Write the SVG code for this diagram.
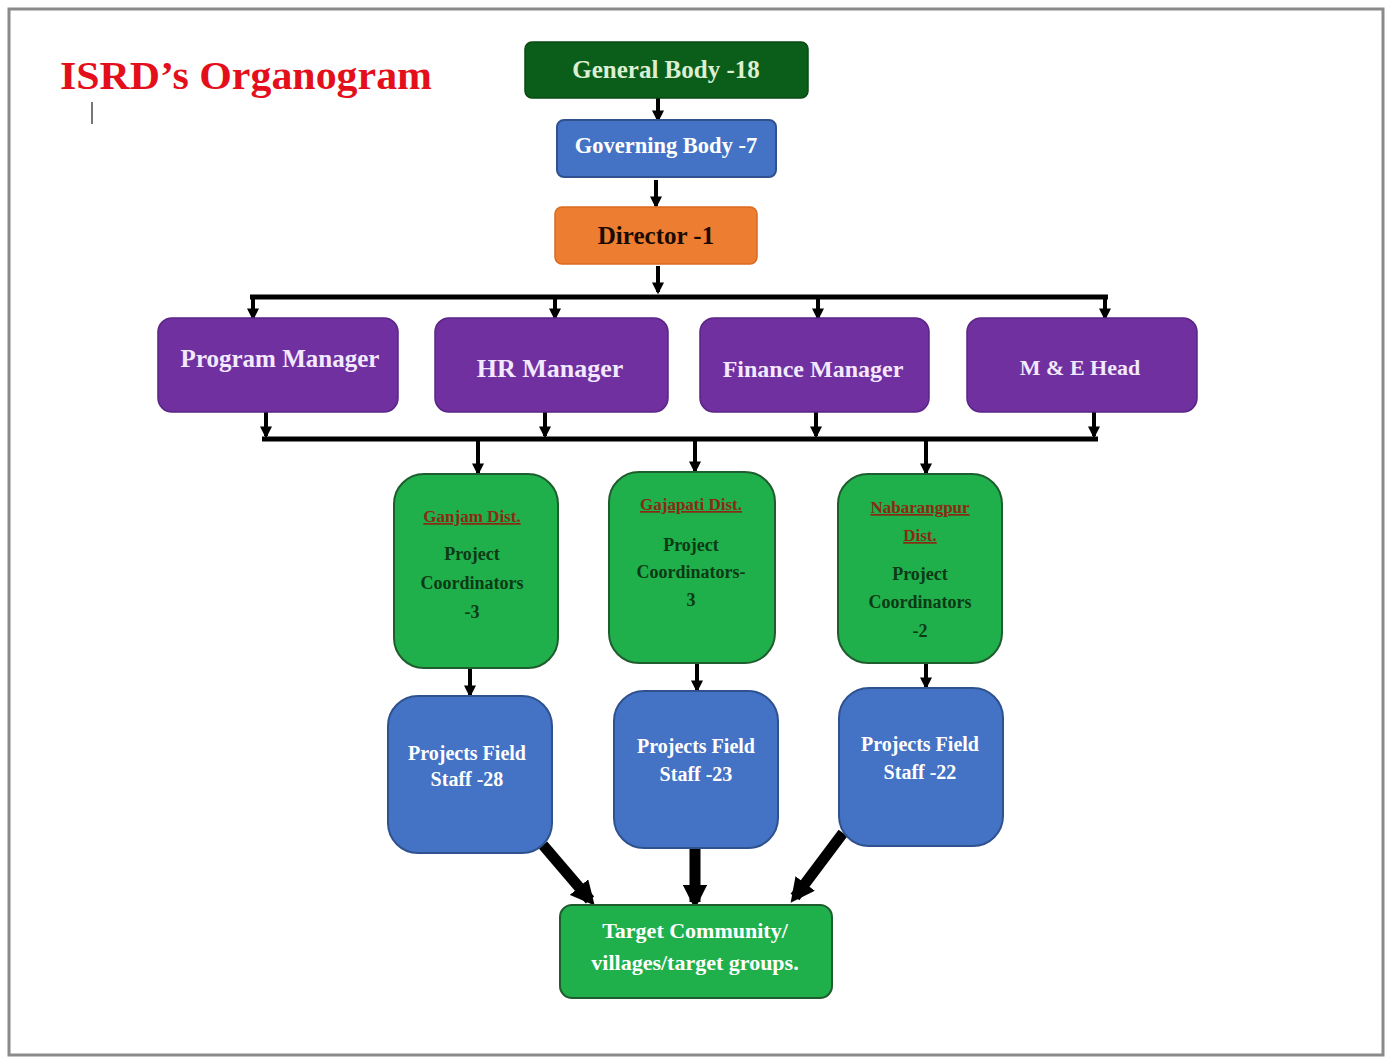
<svg xmlns="http://www.w3.org/2000/svg" width="1389" height="1059" viewBox="0 0 1389 1059">
<style>
text{font-family:"Liberation Serif","DejaVu Serif",serif;font-weight:bold;text-anchor:middle}
.pm{fill:#7030a0;stroke:#5a2585;stroke-width:1.5}
.gr{fill:#1fb04c;stroke:#1f5c2e;stroke-width:2}
.bl{fill:#4472c4;stroke:#2f528f;stroke-width:2}
.pc{fill:#0c3a14;font-size:18px}
.dist{fill:#8b2a12;font-size:17px;text-decoration:underline}
.pt{fill:#f3e9ff;font-size:23px}
.st{fill:#ffffff;font-size:20px}
.ln{stroke:#000;stroke-width:5;fill:none}
.ar{stroke:#000;stroke-width:4;fill:none;marker-end:url(#ah)}
.big{stroke:#000;stroke-width:11;fill:none;marker-end:url(#bh)}
</style>
<defs>
<marker id="ah" viewBox="0 0 10 10" refX="8" refY="5" markerWidth="3" markerHeight="3" orient="auto" markerUnits="strokeWidth">
<path d="M0,0 L10,5 L0,10 z" fill="#000"/>
</marker>
<marker id="bh" viewBox="0 0 10 10" refX="7" refY="5" markerWidth="2.2" markerHeight="2.2" orient="auto" markerUnits="strokeWidth">
<path d="M0,0 L10,5 L0,10 z" fill="#000"/>
</marker>
</defs>
<rect x="0" y="0" width="1389" height="1059" fill="#ffffff"/>
<rect x="9" y="9" width="1374" height="1046" fill="none" stroke="#8a8a8a" stroke-width="3"/>
<g id="title">
<text x="246" y="89" style="fill:#e3101c;font-size:40px" textLength="372" lengthAdjust="spacingAndGlyphs">ISRD’s Organogram</text>
<line x1="92" y1="102" x2="92" y2="124" stroke="#777" stroke-width="2"/>
</g>
<g id="connectors">
<line class="ar" x1="658" y1="98" x2="658" y2="120"/>
<line class="ar" x1="656" y1="180" x2="656" y2="206"/>
<line class="ar" x1="658" y1="266" x2="658" y2="292"/>
<line class="ln" x1="250" y1="297" x2="1108" y2="297"/>
<line class="ar" x1="253" y1="297" x2="253" y2="318"/>
<line class="ar" x1="555" y1="297" x2="555" y2="318"/>
<line class="ar" x1="818" y1="297" x2="818" y2="318"/>
<line class="ar" x1="1105" y1="297" x2="1105" y2="318"/>
<line class="ar" x1="266" y1="412" x2="266" y2="436"/>
<line class="ar" x1="545" y1="412" x2="545" y2="436"/>
<line class="ar" x1="816" y1="412" x2="816" y2="436"/>
<line class="ar" x1="1094" y1="412" x2="1094" y2="436"/>
<line class="ln" x1="262" y1="439" x2="1098" y2="439"/>
<line class="ar" x1="478" y1="439" x2="478" y2="473"/>
<line class="ar" x1="695" y1="439" x2="695" y2="471"/>
<line class="ar" x1="926" y1="439" x2="926" y2="473"/>
<line class="ar" x1="470" y1="668" x2="470" y2="695"/>
<line class="ar" x1="697" y1="663" x2="697" y2="690"/>
<line class="ar" x1="926" y1="663" x2="926" y2="687"/>
<line class="big" x1="543" y1="845" x2="590" y2="900"/>
<line class="big" x1="695" y1="848" x2="695" y2="902"/>
<line class="big" x1="843" y1="833" x2="795" y2="897"/>
</g>
<g id="general-body">
<rect x="525" y="42" width="283" height="56" rx="7" fill="#0b5e1a" stroke="#0a4a14" stroke-width="1.5"/>
<text x="666" y="78" style="fill:#dcefd2;font-size:25px">General Body -18</text>
</g>
<g id="governing-body">
<rect x="557" y="120" width="219" height="57" rx="7" class="bl"/>
<text x="666" y="153" style="fill:#ffffff;font-size:22.5px">Governing Body -7</text>
</g>
<g id="director">
<rect x="555" y="207" width="202" height="57" rx="7" fill="#ed7d31" stroke="#d9691f" stroke-width="1.5"/>
<text x="656" y="244" style="fill:#1a0a00;font-size:25px">Director -1</text>
</g>
<g id="program-manager">
<rect x="158" y="318" width="240" height="94" rx="14" class="pm"/>
<text x="280" y="367" class="pt" style="font-size:25px">Program Manager</text>
</g>
<g id="hr-manager">
<rect x="435" y="318" width="233" height="94" rx="14" class="pm"/>
<text x="550" y="377" class="pt" style="font-size:26px">HR Manager</text>
</g>
<g id="finance-manager">
<rect x="700" y="318" width="229" height="94" rx="14" class="pm"/>
<text x="813" y="377" class="pt" style="font-size:24px">Finance Manager</text>
</g>
<g id="me-head">
<rect x="967" y="318" width="230" height="94" rx="14" class="pm"/>
<text x="1080" y="375" class="pt" style="font-size:22px">M &amp; E Head</text>
</g>
<g id="ganjam">
<rect x="394" y="474" width="164" height="194" rx="30" class="gr"/>
<text x="472" y="522" class="dist">Ganjam Dist.</text>
<text x="472" y="560" class="pc">Project</text>
<text x="472" y="589" class="pc">Coordinators</text>
<text x="472" y="618" class="pc">-3</text>
</g>
<g id="gajapati">
<rect x="609" y="472" width="166" height="191" rx="30" class="gr"/>
<text x="691" y="510" class="dist">Gajapati Dist.</text>
<text x="691" y="551" class="pc">Project</text>
<text x="691" y="578" class="pc">Coordinators-</text>
<text x="691" y="606" class="pc">3</text>
</g>
<g id="nabarangpur">
<rect x="838" y="474" width="164" height="189" rx="30" class="gr"/>
<text x="920" y="513" class="dist">Nabarangpur</text>
<text x="920" y="541" class="dist">Dist.</text>
<text x="920" y="580" class="pc">Project</text>
<text x="920" y="608" class="pc">Coordinators</text>
<text x="920" y="637" class="pc">-2</text>
</g>
<g id="staff-ganjam">
<rect x="388" y="696" width="164" height="157" rx="30" class="bl"/>
<text x="467" y="760" class="st">Projects Field</text>
<text x="467" y="786" class="st">Staff -28</text>
</g>
<g id="staff-gajapati">
<rect x="614" y="691" width="164" height="157" rx="30" class="bl"/>
<text x="696" y="753" class="st">Projects Field</text>
<text x="696" y="781" class="st">Staff -23</text>
</g>
<g id="staff-nabarangpur">
<rect x="839" y="688" width="164" height="158" rx="30" class="bl"/>
<text x="920" y="751" class="st">Projects Field</text>
<text x="920" y="779" class="st">Staff -22</text>
</g>
<g id="target">
<rect x="560" y="905" width="272" height="93" rx="12" class="gr"/>
<text x="695" y="938" style="fill:#ffffff;font-size:22px">Target Community/</text>
<text x="695" y="970" style="fill:#ffffff;font-size:22px">villages/target groups.</text>
</g>
</svg>
